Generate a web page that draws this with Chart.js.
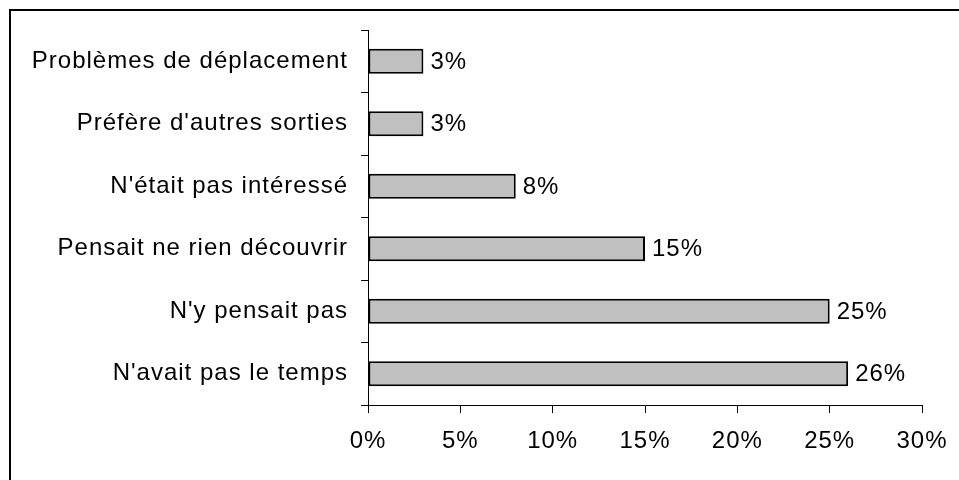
<!DOCTYPE html>
<html>
<head>
  <meta charset="UTF-8">
  <title>Raisons de ne pas visiter</title>
  <script src="https://cdn.jsdelivr.net/npm/chart.js"></script>
  <style>
    html, body {
      margin: 0;
      padding: 0;
      background-color: #ffffff;
      overflow: hidden;
    }
    #wrap {
      position: relative;
      width: 959px;
      height: 480px;
    }
    #frame {
      position: absolute;
      left: 9px;
      top: 9px;
      width: 1000px;
      height: 1000px;
      border: 2px solid #000;
      pointer-events: none;
    }
  </style>
</head>
<body>

  <div id="wrap">
    <canvas id="barChart" width="959" height="480"></canvas>
    <div id="frame"></div>
  </div>

  <script>
    const categories = [
      'Problèmes de déplacement',
      "Préfère d'autres sorties",
      "N'était pas intéressé",
      'Pensait ne rien découvrir',
      "N'y pensait pas",
      "N'avait pas le temps"
    ];
    const percentages = [3, 3, 8, 15, 25, 26];
    const xTicks = [0, 5, 10, 15, 20, 25, 30];

    const fontFamily = '"Liberation Sans", Arial, sans-serif';
    const fontSize = 24;
    const letterSpacing = '1px';

    // valeurs affichées au bout des barres
    const valueLabels = {
      id: 'valueLabels',
      afterDatasetsDraw(chart) {
        const ctx = chart.ctx;
        const meta = chart.getDatasetMeta(0);
        ctx.save();
        ctx.letterSpacing = letterSpacing;
        ctx.font = fontSize + 'px ' + fontFamily;
        ctx.fillStyle = '#000';
        ctx.textAlign = 'left';
        ctx.textBaseline = 'middle';
        meta.data.forEach((bar, i) => {
          ctx.fillText(percentages[i] + '%', bar.x + 7, bar.y + 1);
        });
        ctx.restore();
      }
    };

    // le canvas perd son état quand Chart.js le redimensionne
    const spacing = {
      id: 'spacing',
      beforeLayout(chart) {
        chart.ctx.letterSpacing = letterSpacing;
      },
      beforeDraw(chart) {
        chart.ctx.letterSpacing = letterSpacing;
      }
    };

    const ctx = document.getElementById('barChart').getContext('2d');

    const chart = new Chart(ctx, {
      type: 'bar',
      data: {
        labels: categories,
        datasets: [{
          data: percentages,
          backgroundColor: '#c0c0c0',
          borderColor: '#000',
          borderWidth: 2,
          borderSkipped: false,
          barPercentage: 0.4,
          categoryPercentage: 1
        }]
      },
      options: {
        indexAxis: 'y',
        responsive: false,
        animation: false,
        layout: {
          padding: { left: 0, right: 37, top: 30, bottom: 0 }
        },
        scales: {
          x: {
            min: 0,
            max: 30,
            afterBuildTicks(scale) {
              scale.ticks = xTicks.map(v => ({ value: v }));
            },
            afterFit(scale) {
              scale.height = 75;
              scale.paddingLeft = 0;
              scale.paddingRight = 0;
            },
            grid: {
              drawOnChartArea: false,
              tickLength: 8,
              color: '#000'
            },
            border: { color: '#000', width: 1 },
            ticks: {
              padding: 14,
              color: '#000',
              font: { family: fontFamily, size: fontSize },
              maxRotation: 0,
              callback: v => v + '%'
            }
          },
          y: {
            afterFit(scale) {
              scale.width = 368;
            },
            grid: {
              drawOnChartArea: false,
              offset: true,
              tickLength: 7,
              color: '#000'
            },
            border: { color: '#000', width: 1 },
            ticks: {
              padding: 13,
              color: '#000',
              font: { family: fontFamily, size: fontSize }
            }
          }
        },
        plugins: {
          legend: { display: false },
          tooltip: { enabled: false }
        }
      },
      plugins: [spacing, valueLabels]
    });
  </script>

</body>
</html>
